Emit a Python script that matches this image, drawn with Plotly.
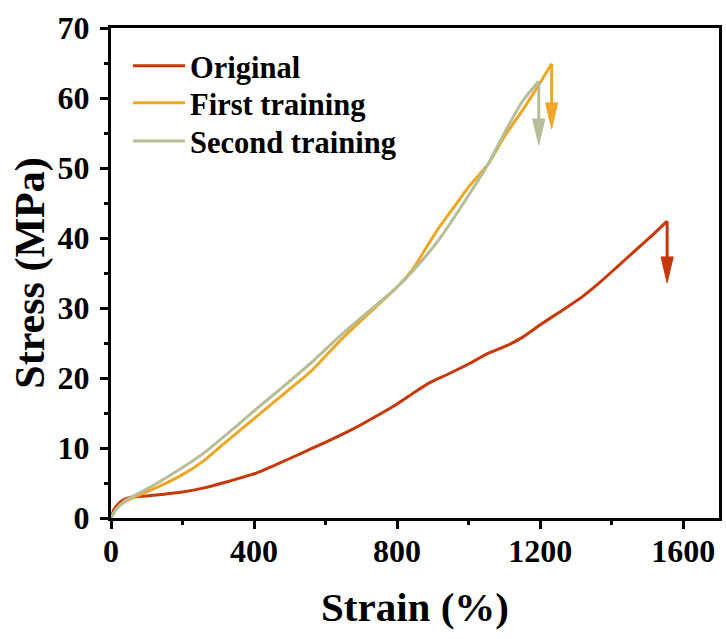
import plotly.graph_objects as go

# ---- data ----
orig_x = [0, 8, 20, 35, 60, 100, 150, 200, 260, 312, 360, 406, 460, 500, 560, 620, 680, 740,
          800, 850, 890, 940, 1000, 1050, 1110, 1150, 1200, 1260, 1320, 1370, 1420, 1470, 1520, 1555]
orig_y = [0, 1.2, 2.0, 2.6, 3.0, 3.15, 3.4, 3.7, 4.3, 5.0, 5.7, 6.4, 7.6, 8.5, 9.9, 11.3, 12.8, 14.5,
          16.3, 18.0, 19.3, 20.5, 22.0, 23.4, 24.7, 25.8, 27.6, 29.6, 31.7, 33.8, 36.1, 38.4, 40.7, 42.4]

first_x = [0, 15, 40, 80, 130, 200, 260, 320, 400, 480, 560, 640, 720, 800, 846, 880, 916,
           960, 1000, 1055, 1100, 1150, 1200, 1232]
first_y = [0, 1.3, 2.4, 3.3, 4.4, 6.2, 8.2, 10.8, 14.2, 17.6, 21.0, 25.3, 29.2, 33.0, 35.7, 38.5, 41.4,
           44.5, 47.3, 50.6, 54.5, 58.2, 62.2, 64.9]

second_x = [0, 15, 40, 80, 130, 200, 260, 320, 400, 480, 560, 640, 720, 800, 846, 916, 1000,
            1055, 1100, 1150, 1196]
second_y = [0, 1.3, 2.5, 3.6, 5.0, 7.2, 9.3, 11.8, 15.3, 18.7, 22.2, 26.0, 29.5, 33.0, 35.4, 39.7, 46.1,
            50.6, 55.0, 59.5, 62.4]

# fracture arrows: (strain at break, peak stress, arrow tip stress)
arrow_x = [1555, 1232, 1196]
arrow_top = [42.4, 64.9, 62.4]
arrow_tip = [33.6, 55.6, 53.3]

names = ["Original", "First training", "Second training"]
colors = ["#C8380A", "#EFA626", "#B5BE98"]
legend_ids = ["legend", "legend2", "legend3"]
legend_rows = [0.9224, 0.847, 0.769]

font_family = "Liberation Serif, Times New Roman, serif"

fig = go.Figure()
for xs, ys, nm, c, lg in zip([orig_x, first_x, second_x], [orig_y, first_y, second_y],
                             names, colors, legend_ids):
    fig.add_trace(go.Scatter(x=xs, y=ys, mode="lines", name=nm, legend=lg,
                             line=dict(color=c, width=3, shape="spline", smoothing=0.6)))

# arrows (shaft + filled head), head size in axis units
head_half_w = 17
head_len = 3.7
for ax_, top, tip, c in zip(arrow_x, arrow_top, arrow_tip, colors):
    fig.add_trace(go.Scatter(x=[ax_, ax_], y=[top, tip + head_len], mode="lines",
                             line=dict(color=c, width=3), showlegend=False, hoverinfo="skip"))
    fig.add_trace(go.Scatter(x=[ax_ - head_half_w, ax_ + head_half_w, ax_, ax_ - head_half_w],
                             y=[tip + head_len, tip + head_len, tip, tip + head_len],
                             mode="lines", fill="toself", fillcolor=c,
                             line=dict(color=c, width=1), showlegend=False, hoverinfo="skip"))

legend_style = dict(xanchor="left", yanchor="middle", bgcolor="rgba(0,0,0,0)", itemwidth=52,
                    font=dict(family=font_family, size=30.5, weight="bold", color="black"))

fig.update_layout(
    width=726, height=639,
    margin=dict(l=111, r=4, t=28, b=121),
    plot_bgcolor="white", paper_bgcolor="white",
    font=dict(family=font_family, color="black"),
    showlegend=True,
    legend=dict(x=0.028, y=legend_rows[0], **legend_style),
    legend2=dict(x=0.028, y=legend_rows[1], **legend_style),
    legend3=dict(x=0.028, y=legend_rows[2], **legend_style),
)

fig.update_xaxes(
    range=[0, 1700], showgrid=False, zeroline=False,
    showline=True, linecolor="black", linewidth=3, mirror=True,
    ticks="outside", ticklen=8, tickwidth=3, tickcolor="black",
    tickvals=[0, 400, 800, 1200, 1600],
    minor=dict(ticks="outside", ticklen=4, tickwidth=3, tickcolor="black", dtick=200, tick0=0),
    tickfont=dict(family=font_family, size=32, weight="bold"),
    ticklabelstandoff=-5,
    title=dict(text="Strain (%)", font=dict(family=font_family, size=41, weight="bold"), standoff=24),
)
fig.update_yaxes(
    range=[0, 70], showgrid=False, zeroline=False,
    showline=True, linecolor="black", linewidth=3, mirror=True,
    ticks="outside", ticklen=8, tickwidth=3, tickcolor="black",
    dtick=10, tick0=0,
    minor=dict(ticks="outside", ticklen=4, tickwidth=3, tickcolor="black", dtick=5, tick0=0),
    tickfont=dict(family=font_family, size=32, weight="bold"),
    ticklabelstandoff=4,
    title=dict(text="Stress (MPa)", font=dict(family=font_family, size=42, weight="bold"), standoff=0),
)

fig.write_html("out.html")
